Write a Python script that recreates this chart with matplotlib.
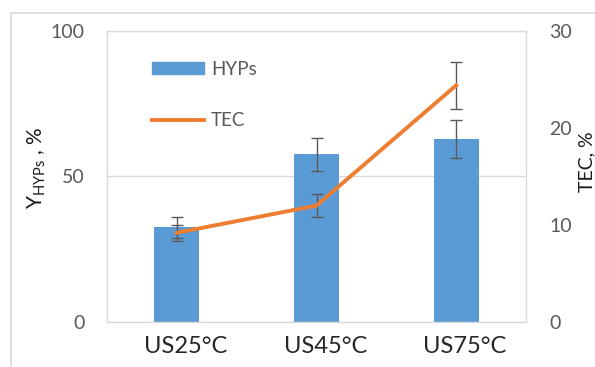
import matplotlib
matplotlib.use("Agg")
import matplotlib.pyplot as plt
import matplotlib.transforms as mtransforms
from matplotlib.lines import Line2D
import numpy as np

plt.rcParams['font.family'] = ['Lato', 'DejaVu Sans']

categories = ["US25°C", "US45°C", "US75°C"]
hyps = [32.6, 57.7, 62.9]
hyps_err = [3.6, 5.7, 6.5]
tec = [9.2, 12.0, 24.4]
tec_err = [0.8, 1.2, 2.4]

W, H = 595, 367
fig = plt.figure(figsize=(W / 100, H / 100), dpi=100)

# plot area in pixel coordinates
left, right, top, bottom = 107, 526, 31, 322
ax = fig.add_axes([left / W, 1 - bottom / H, (right - left) / W, (bottom - top) / H])

bar_color = "#5B9BD5"
line_color = "#ED7D31"
err_color = "#595959"
tick_color = "#595959"
frame_color = "#D9D9D9"

x = np.arange(len(categories))
ax.bar(x, hyps, width=0.32, color=bar_color, label="HYPs", zorder=2)
ax.errorbar(x, hyps, yerr=hyps_err, fmt="none", ecolor=err_color,
            elinewidth=1.0, capsize=4, capthick=1.0, zorder=3)

ax.set_xlim(-0.5, 2.5)
ax.set_ylim(0, 100)
ax.set_yticks([0, 50, 100])
ax.yaxis.grid(True, color=frame_color, linewidth=1.0)
ax.set_axisbelow(True)
ax.set_xticks(x)
ax.set_xticklabels(categories)
ax.tick_params(axis="x", length=0, pad=10, labelsize=17, labelcolor="#262626")
ax.tick_params(axis="y", length=0, pad=16, labelsize=14, labelcolor=tick_color)
for lab in ax.get_xticklabels():
    lab.set_transform(lab.get_transform() +
                      mtransforms.ScaledTranslation(9 / 100, 0, fig.dpi_scale_trans))
for s in ax.spines.values():
    s.set_color(frame_color)
    s.set_linewidth(1.0)

ax2 = ax.twinx()
ax2.set_ylim(0, 30)
ax2.set_yticks([0, 10, 20, 30])
ax2.tick_params(axis="y", length=0, pad=17, labelsize=14, labelcolor=tick_color)
for s in ax2.spines.values():
    s.set_visible(False)
ax2.errorbar(x, tec, yerr=tec_err, fmt="none", ecolor=err_color,
             elinewidth=1.0, capsize=4, capthick=1.0, zorder=3)
ax2.plot(x, tec, color=line_color, linewidth=2.8, label="TEC",
         solid_joinstyle="miter", zorder=4)

handles = [plt.Rectangle((0, 0), 1, 1, color=bar_color),
           Line2D([], [], color=line_color, linewidth=2.8)]
leg = ax.legend(handles, ["HYPs", "TEC"], loc="upper left",
                bbox_to_anchor=(0.107, 0.898), frameon=False, fontsize=13.5,
                handlelength=2.8, handleheight=0.6, handletextpad=0.35,
                labelspacing=1.85, borderpad=0, borderaxespad=0)
for t in leg.get_texts():
    t.set_color(tick_color)

fig.text(37 / W, 1 - 168 / H, r"Y$_{\mathregular{HYPs}}$ , %", rotation=90,
         ha="center", va="center", fontsize=15, color="#1a1a1a")
fig.text(587 / W, 1 - 162 / H, "TEC, %", rotation=90,
         ha="center", va="center", fontsize=14, color="#1a1a1a")

# outer chart-area border
fig.add_artist(Line2D([11 / W, 1.0], [1 - 13 / H, 1 - 13 / H],
                      transform=fig.transFigure, color=frame_color, linewidth=1.2))
fig.add_artist(Line2D([11 / W, 11 / W], [0, 1 - 13 / H],
                      transform=fig.transFigure, color=frame_color, linewidth=1.2))

fig.savefig("out.png", dpi=100)
